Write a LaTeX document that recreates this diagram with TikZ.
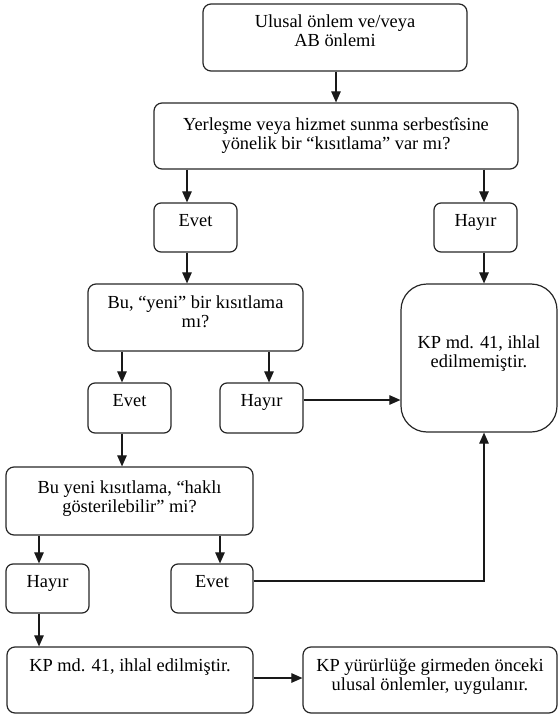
\documentclass[tikz,border=0pt]{standalone}
\usepackage{fontspec}
\setmainfont{Liberation Serif}
\usetikzlibrary{arrows.meta}
\newcommand\boxtext[2]{\raisebox{#1}[\height][\depth]{\begin{tabular}{@{}c@{}}#2\end{tabular}}}
\begin{document}
\begin{tikzpicture}[x=1pt,y=-1pt,
  font=\fontsize{18.4}{19}\selectfont,
  box/.style={draw=black!85, rounded corners=8pt, line width=1.2pt, inner sep=0pt},
  arr/.style={-{Triangle[length=11pt,width=9.5pt]}, line width=1.1pt, black!90}]
\useasboundingbox (0,0) rectangle (559,714);
% boxes
\node[box, minimum width=264pt, minimum height=67pt] (top) at (335,37.5) {\boxtext{3.8pt}{Ulusal önlem ve/veya\\AB önlemi}};
\node[box, minimum width=364pt, minimum height=66pt] (q1) at (336,136) {\boxtext{0pt}{Yerleşme veya hizmet sunma serbestîsine\\yönelik bir “kısıtlama” var mı?}};
\node[box, rounded corners=7pt, minimum width=83pt, minimum height=49pt] (evet1) at (195.5,227.5) {\boxtext{4.6pt}{Evet}};
\node[box, rounded corners=7pt, minimum width=83pt, minimum height=49pt] (hayir1) at (475.5,227.5) {\boxtext{4.6pt}{Hayır}};
\node[box, minimum width=215pt, minimum height=67pt] (q2) at (195.5,317.5) {\boxtext{3pt}{Bu, “yeni” bir kısıtlama\\mı?}};
\node[box, rounded corners=26pt, minimum width=156pt, minimum height=148pt] (kp1) at (479,358) {\boxtext{3.5pt}{KP md. 41, ihlal\\edilmemiştir.}};
\node[box, rounded corners=7pt, minimum width=83pt, minimum height=50pt] (evet2) at (129.5,408) {\boxtext{5.8pt}{Evet}};
\node[box, rounded corners=7pt, minimum width=83pt, minimum height=50pt] (hayir2) at (261.5,408) {\boxtext{5.8pt}{Hayır}};
\node[box, minimum width=247pt, minimum height=68pt] (q3) at (129.5,501) {\boxtext{2pt}{Bu yeni kısıtlama, “haklı\\gösterilebilir” mi?}};
\node[box, rounded corners=7pt, minimum width=83pt, minimum height=49pt] (hayir3) at (47.5,588.5) {\boxtext{5pt}{Hayır}};
\node[box, rounded corners=7pt, minimum width=82pt, minimum height=49pt] (evet3) at (212,588.5) {\boxtext{5pt}{Evet}};
\node[box, minimum width=246pt, minimum height=66pt] (kp2) at (130,680) {\boxtext{12pt}{KP md. 41, ihlal edilmiştir.}};
\node[box, minimum width=254pt, minimum height=66pt] (kp3) at (430,680) {\boxtext{3pt}{KP yürürlüğe girmeden önceki\\ulusal önlemler, uygulanır.}};
% guide coordinates
\coordinate (xa) at (336,0);
\coordinate (xb) at (187,0);
\coordinate (xc) at (484,0);
\coordinate (xd) at (122,0);
\coordinate (xe) at (269,0);
\coordinate (xf) at (39,0);
\coordinate (xg) at (220,0);
\coordinate (ya) at (0,400);
\coordinate (yb) at (0,581);
\coordinate (yc) at (0,678);
\coordinate (bend) at (484,581);
% connectors
\draw[arr] (top.south -| xa) -- (q1.north -| xa);
\draw[arr] (q1.south -| xb) -- (evet1.north -| xb);
\draw[arr] (q1.south -| xc) -- (hayir1.north -| xc);
\draw[arr] (evet1.south -| xb) -- (q2.north -| xb);
\draw[arr] (hayir1.south -| xc) -- (kp1.north -| xc);
\draw[arr] (q2.south -| xd) -- (evet2.north -| xd);
\draw[arr] (q2.south -| xe) -- (hayir2.north -| xe);
\draw[arr] (hayir2.east |- ya) -- (kp1.west |- ya);
\draw[arr] (evet2.south -| xd) -- (q3.north -| xd);
\draw[arr] (q3.south -| xf) -- (hayir3.north -| xf);
\draw[arr] (q3.south -| xg) -- (evet3.north -| xg);
\draw[arr] (evet3.east |- yb) -- (bend) -- (kp1.south -| bend);
\draw[arr] (hayir3.south -| xf) -- (kp2.north -| xf);
\draw[arr] (kp2.east |- yc) -- (kp3.west |- yc);
\end{tikzpicture}
\end{document}
